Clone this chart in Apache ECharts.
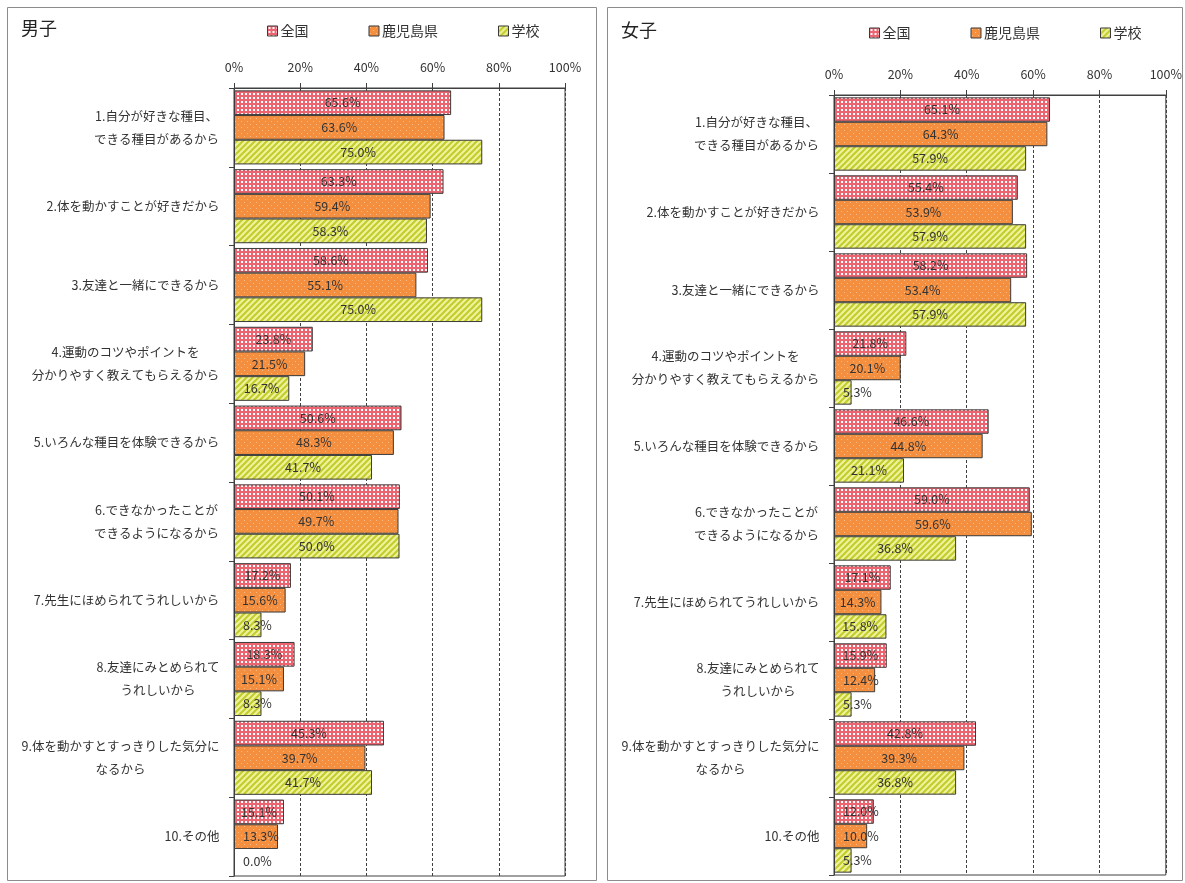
<!DOCTYPE html>
<html>
<head>
<meta charset="utf-8">
<script src="https://cdn.jsdelivr.net/npm/echarts@6/dist/echarts.min.js"></script>
<style>
  html, body { margin: 0; padding: 0; background: #fff; }
  #chart { width: 1185px; height: 883px; }
</style>
</head>
<body>
<div id="chart"></div>
<script>
// Reasons for enjoying exercise: share of respondents (%)
const categories = [
  '1.自分が好きな種目、\nできる種目があるから',
  '2.体を動かすことが好きだから',
  '3.友達と一緒にできるから',
  '4.運動のコツやポイントを\n分かりやすく教えてもらえるから',
  '5.いろんな種目を体験できるから',
  '6.できなかったことが\nできるようになるから',
  '7.先生にほめられてうれしいから',
  '8.友達にみとめられて\nうれしいから',
  '9.体を動かすとすっきりした気分に\nなるから',
  '10.その他'
];
const seriesNames = ['全国', '鹿児島県', '学校'];

// 男子
const boysNational   = [65.6, 63.3, 58.6, 23.8, 50.6, 50.1, 17.2, 18.3, 45.3, 15.1];
const boysPrefecture = [63.6, 59.4, 55.1, 21.5, 48.3, 49.7, 15.6, 15.1, 39.7, 13.3];
const boysSchool     = [75.0, 58.3, 75.0, 16.7, 41.7, 50.0,  8.3,  8.3, 41.7,  0.0];

// 女子
const girlsNational   = [65.1, 55.4, 58.2, 21.8, 46.6, 59.0, 17.1, 15.9, 42.8, 12.0];
const girlsPrefecture = [64.3, 53.9, 53.4, 20.1, 44.8, 59.6, 14.3, 12.4, 39.3, 10.0];
const girlsSchool     = [57.9, 57.9, 57.9,  5.3, 21.1, 36.8, 15.8,  5.3, 36.8,  5.3];

const xTicks = [0, 20, 40, 60, 80, 100];

// ---- fill patterns ----
function makeTile(w, h, draw) {
  const c = document.createElement('canvas');
  c.width = w; c.height = h;
  draw(c.getContext('2d'));
  return c;
}
const pinkTile = makeTile(4, 4, g => {
  g.fillStyle = '#ec6470'; g.fillRect(0, 0, 4, 4);
  g.fillStyle = '#ffffff';
  g.fillRect(1, 1, 2, 2);
});
const orangeTile = makeTile(6, 6, g => {
  g.fillStyle = '#f48f40'; g.fillRect(0, 0, 6, 6);
  g.fillStyle = '#f9bb86';
  g.fillRect(1, 1, 1, 1); g.fillRect(4, 4, 1, 1);
});
const greenTile = makeTile(6, 6, g => {
  g.fillStyle = '#eef29a'; g.fillRect(0, 0, 6, 6);
  g.strokeStyle = '#c2cc2a'; g.lineWidth = 2;
  g.beginPath();
  g.moveTo(-1, 7); g.lineTo(7, -1);
  g.moveTo(-4, 4); g.lineTo(4, -4);
  g.moveTo(2, 10); g.lineTo(10, 2);
  g.stroke();
});
const fills = [
  { image: pinkTile, repeat: 'repeat' },
  { image: orangeTile, repeat: 'repeat' },
  { image: greenTile, repeat: 'repeat' }
];

const FONT = '"Noto Sans CJK JP", "Noto Sans", sans-serif';
const TEXT = '#333333';
const AXIS = '#404040';
const CAT_FONT_SIZE = 12.5;

// widest line of each category label, so its lines can be centred in one block
const measureCtx = document.createElement('canvas').getContext('2d');
measureCtx.font = CAT_FONT_SIZE + 'px ' + FONT;
const catBlockWidth = categories.map(c =>
  Math.ceil(Math.max(...c.split('\n').map(s => measureCtx.measureText(s).width))) + 1
);
const catRich = {};
categories.forEach((c, i) => {
  catRich['c' + i] = {
    color: TEXT, fontFamily: FONT, fontSize: CAT_FONT_SIZE, lineHeight: 23,
    width: catBlockWidth[i], align: 'center'
  };
});

// short bars are too narrow for a centred label: pin it near the axis instead
function barData(values) {
  return values.map(v => {
    const item = { value: v };
    if (v < 14) {
      item.label = { position: 'insideLeft', distance: 9 };
    }
    if (v === 0) {
      item.itemStyle = { borderWidth: 0 };
    }
    return item;
  });
}

function makeSeries(values, idx, gridIndex) {
  return {
    type: 'bar',
    name: seriesNames[idx],
    xAxisIndex: gridIndex,
    yAxisIndex: gridIndex,
    data: barData(values),
    barGap: '0%',
    barCategoryGap: '6%',
    itemStyle: { color: fills[idx], borderColor: '#3a3a3a', borderWidth: 1 },
    label: {
      show: true,
      position: 'inside',
      color: TEXT,
      fontFamily: FONT,
      fontSize: 12.5,
      formatter: p => p.value.toFixed(1) + '%'
    },
    emphasis: { disabled: true },
    animation: false
  };
}

function xAxisCfg(gridIndex) {
  return {
    type: 'value',
    gridIndex: gridIndex,
    position: 'top',
    min: xTicks[0],
    max: xTicks[xTicks.length - 1],
    interval: xTicks[1] - xTicks[0],
    axisLine: { show: true, lineStyle: { color: AXIS, width: 1 } },
    axisTick: { show: true, length: 5, lineStyle: { color: AXIS } },
    axisLabel: {
      color: TEXT, fontFamily: FONT, fontSize: 12.5, margin: 14,
      formatter: '{value}%'
    },
    splitLine: { show: true, lineStyle: { color: AXIS, type: [3, 2], width: 1 } }
  };
}

function yAxisCfg(gridIndex) {
  return {
    type: 'category',
    gridIndex: gridIndex,
    inverse: true,
    data: categories,
    axisLine: { show: true, lineStyle: { color: AXIS, width: 1 } },
    axisTick: { show: true, length: 5, alignWithLabel: false, lineStyle: { color: AXIS } },
    axisLabel: {
      margin: 14,
      formatter: (v, i) => v.split('\n').map(s => '{c' + i + '|' + s + '}').join('\n'),
      rich: catRich
    },
    splitLine: { show: false }
  };
}

function legendCfg(left, top) {
  return {
    left: left, top: top,
    data: seriesNames,
    itemWidth: 10, itemHeight: 10, itemGap: 60,
    icon: 'rect',
    itemStyle: { borderColor: '#3a3a3a', borderWidth: 1 },
    textStyle: { color: TEXT, fontFamily: FONT, fontSize: 14, padding: [0, 0, 0, -2] },
    selectedMode: false
  };
}

const chart = echarts.init(document.getElementById('chart'), null, { renderer: 'canvas' });
chart.setOption({
  backgroundColor: '#ffffff',
  animation: false,
  title: [
    { text: '男子', left: 16, top: 14, textStyle: { fontFamily: FONT, fontSize: 18, fontWeight: 'normal', color: '#222' } },
    { text: '女子', left: 616, top: 16, textStyle: { fontFamily: FONT, fontSize: 18, fontWeight: 'normal', color: '#222' } }
  ],
  legend: [legendCfg(262, 19), legendCfg(864, 21)],
  graphic: [
    { type: 'rect', shape: { x: 7.5, y: 7.5, width: 589, height: 873 }, style: { fill: 'none', stroke: '#8c8c8c', lineWidth: 1 }, z: -1 },
    { type: 'rect', shape: { x: 607.5, y: 7.5, width: 575, height: 873 }, style: { fill: 'none', stroke: '#8c8c8c', lineWidth: 1 }, z: -1 }
  ],
  grid: [
    { left: 234, top: 88, width: 331, height: 788, show: true, borderColor: AXIS, borderWidth: 1, backgroundColor: 'transparent' },
    { left: 834, top: 95, width: 332, height: 780, show: true, borderColor: AXIS, borderWidth: 1, backgroundColor: 'transparent' }
  ],
  xAxis: [xAxisCfg(0), xAxisCfg(1)],
  yAxis: [yAxisCfg(0), yAxisCfg(1)],
  series: [
    makeSeries(boysNational, 0, 0),
    makeSeries(boysPrefecture, 1, 0),
    makeSeries(boysSchool, 2, 0),
    makeSeries(girlsNational, 0, 1),
    makeSeries(girlsPrefecture, 1, 1),
    makeSeries(girlsSchool, 2, 1)
  ]
});
</script>
</body>
</html>
